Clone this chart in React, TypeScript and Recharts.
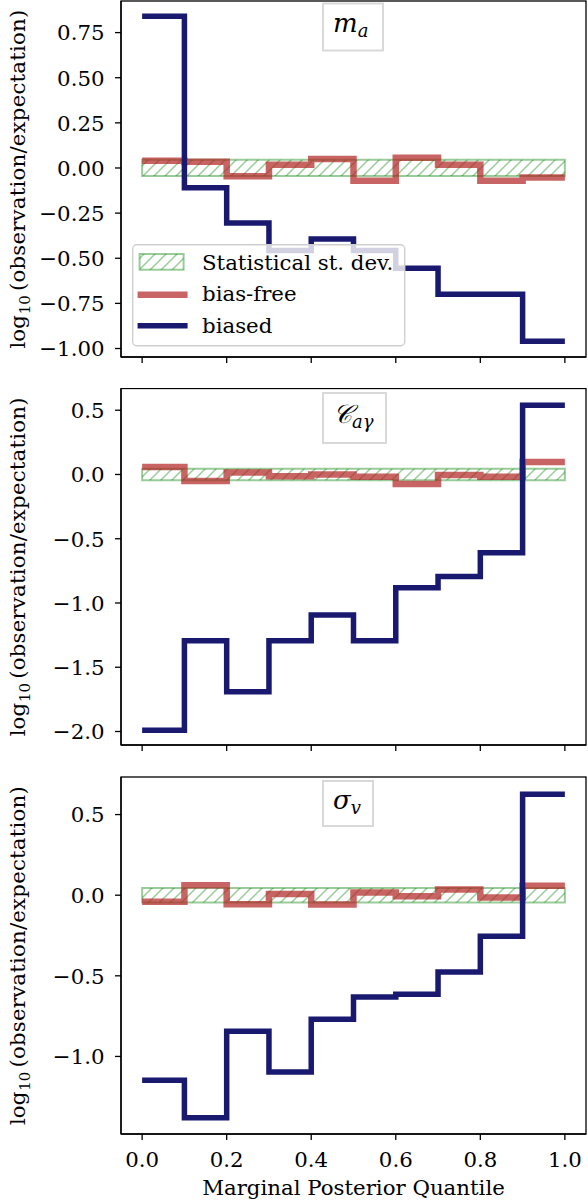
import React from 'react';
import { ComposedChart, Line, XAxis, YAxis, ReferenceArea, Legend } from 'recharts';

// ---------- data ----------
const QUANTILE_EDGES = [0, 0.1, 0.2, 0.3, 0.4, 0.5, 0.6, 0.7, 0.8, 0.9, 1.0];
const X_TICKS = [0, 0.2, 0.4, 0.6, 0.8, 1.0];
const X_DOMAIN: [number, number] = [-0.05, 1.05];
const STAT_STD = 0.045;

const MA_BIASED = [0.84, -0.11, -0.305, -0.457, -0.393, -0.457, -0.555, -0.70, -0.70, -0.96];
const MA_BIAS_FREE = [0.04, 0.035, -0.046, 0.018, 0.05, -0.07, 0.057, 0.018, -0.07, -0.052];
const MA_Y_TICKS = [-1, -0.75, -0.5, -0.25, 0, 0.25, 0.5, 0.75];

const CAG_BIASED = [-1.99, -1.293, -1.69, -1.293, -1.093, -1.293, -0.881, -0.793, -0.61, 0.538];
const CAG_BIAS_FREE = [0.059, -0.05, 0.015, -0.013, 0.0, -0.018, -0.075, -0.005, -0.018, 0.098];
const CAG_Y_TICKS = [-2, -1.5, -1, -0.5, 0, 0.5];

const SV_BIASED = [-1.147, -1.38, -0.843, -1.097, -0.769, -0.632, -0.614, -0.477, -0.254, 0.626];
const SV_BIAS_FREE = [-0.041, 0.062, -0.056, 0.008, -0.058, 0.017, -0.006, 0.035, -0.014, 0.058];
const SV_Y_TICKS = [-1, -0.5, 0, 0.5];

const X_LABEL = 'Marginal Posterior Quantile';
const Y_LABEL_PREFIX = 'log';
const Y_LABEL_SUB = '10';
const Y_LABEL_REST = '(observation/expectation)';
const LEGEND_LABELS = ['Statistical st. dev.', 'bias-free', 'biased'];

// ---------- styles ----------
const SERIF = "'DejaVu Serif', 'Liberation Serif', serif";
const FS = 21.3;
const BLUE = '#191970';
const RED = '#b22222';
const RED_OPACITY = 0.7;
const GREEN = '#008000';
const GREEN_OPACITY = 0.4;

function buildRows(biased: number[], free: number[]) {
  return QUANTILE_EDGES.map((x, i) => {
    const k = Math.min(i, biased.length - 1);
    return { x, biased: biased[k], free: free[k] };
  });
}

const fmt = (v: number, d: number) => v.toFixed(d).replace('-', '\u2212');

type TitleSpec = { main: string; sub: string; boxW: number; boxH: number; boxTop: number; base: number; subShift: number };

type PanelProps = {
  top: number;
  height: number;
  marginTop: number;
  xAxisHeight: number;
  marginBottom: number;
  biased: number[];
  free: number[];
  yDomain: [number, number];
  yTicks: number[];
  decimals: number;
  showXLabels: boolean;
  title: TitleSpec;
  legend?: boolean;
};

const HatchDefs = () => (
  <svg width={0} height={0} style={{ position: 'absolute', left: 0, top: 0 }}>
    <defs>
      <pattern id="hatch" patternUnits="userSpaceOnUse" width={11} height={11}>
        <path
          d="M0,11 L11,0 M-2.75,2.75 L2.75,-2.75 M8.25,13.75 L13.75,8.25"
          stroke={GREEN}
          strokeOpacity={GREEN_OPACITY}
          strokeWidth={1.5}
        />
      </pattern>
    </defs>
  </svg>
);

const LegendBox = () => (
  <svg width={275} height={104} style={{ display: 'block', overflow: 'visible' }}>
    <rect x={0.7} y={0.7} width={272} height={101} rx={4} fill="#ffffff" fillOpacity={0.8} stroke="#cfcfcf" strokeWidth={1.4} />
    <rect x={7.6} y={10} width={44} height={15.7} fill="url(#hatch)" stroke={GREEN} strokeOpacity={GREEN_OPACITY} strokeWidth={2} />
    <text x={70} y={26.4} fontFamily={SERIF} fontSize={FS} fill="#000">{LEGEND_LABELS[0]}</text>
    <line x1={5.6} x2={55.6} y1={50.7} y2={50.7} stroke={RED} strokeOpacity={RED_OPACITY} strokeWidth={6.5} />
    <text x={70} y={57} fontFamily={SERIF} fontSize={FS} fill="#000">{LEGEND_LABELS[1]}</text>
    <line x1={5.6} x2={55.6} y1={81.7} y2={81.7} stroke={BLUE} strokeWidth={5.5} />
    <text x={70} y={89} fontFamily={SERIF} fontSize={FS} fill="#000">{LEGEND_LABELS[2]}</text>
  </svg>
);

function Panel(p: PanelProps) {
  const rows = buildRows(p.biased, p.free);

  const YTick = (props: any) => (
    <text x={props.x - 10.5} y={props.y + 7.8} textAnchor="end" fontFamily={SERIF} fontSize={FS} fill="#000">
      {fmt(props.payload.value, p.decimals)}
    </text>
  );
  const XTick = (props: any) =>
    p.showXLabels ? (
      <text x={props.x} y={props.y + 27.3} textAnchor="middle" fontFamily={SERIF} fontSize={FS} fill="#000">
        {fmt(props.payload.value, 1)}
      </text>
    ) : (
      <g />
    );

  const YLabel = (props: any) => {
    const vb = props.viewBox;
    const cy = vb.y + vb.height / 2;
    return (
      <text transform={`translate(25, ${cy}) rotate(-90)`} textAnchor="middle" fontFamily={SERIF} fontSize={FS} fill="#000">
        {Y_LABEL_PREFIX}
        <tspan fontSize={15} dx={1} dy={5}>{Y_LABEL_SUB}</tspan>
        <tspan dx={4} dy={-5} letterSpacing={0.2}>{Y_LABEL_REST}</tspan>
      </text>
    );
  };

  const XLabel = (props: any) => {
    if (!p.showXLabels) return <g />;
    const vb = props.viewBox;
    return (
      <text x={vb.x + vb.width / 2} y={vb.y + 61} textAnchor="middle" fontFamily={SERIF} fontSize={FS} fill="#000">
        {X_LABEL}
      </text>
    );
  };

  // frame (all four spines) + title box, drawn over the plot rectangle
  const FrameAndTitle = (props: any) => {
    const { x, y, width, height } = props;
    const t = p.title;
    const left = 323;
    return (
      <g>
        <rect x={x} y={y} width={width} height={height} fill="none" stroke="#000" strokeWidth={1.3} />
        <rect x={left} y={y + t.boxTop} width={t.boxW} height={t.boxH} fill="#fff" stroke="#d9d9d9" strokeWidth={2} />
        <text x={left + 10} y={y + t.base} fontFamily={SERIF} fontStyle="italic" fontSize={26} fill="#000">
          {t.main}
          <tspan fontSize={18} dy={t.subShift}>{t.sub}</tspan>
        </text>
      </g>
    );
  };

  return (
    <div style={{ position: 'absolute', left: 0, top: p.top, width: 588, height: p.height }}>
      <ComposedChart
        width={588}
        height={p.height}
        data={rows}
        margin={{ top: p.marginTop, right: 2, bottom: p.marginBottom, left: 0 }}
      >
        <XAxis
          xAxisId="b"
          dataKey="x"
          type="number"
          domain={X_DOMAIN}
          allowDataOverflow
          ticks={X_TICKS}
          height={p.xAxisHeight}
          tickSize={6}
          tickMargin={0}
          stroke="#000"
          axisLine={{ stroke: '#000', strokeWidth: 1.3 }}
          tickLine={{ stroke: '#000', strokeWidth: 1.3 }}
          tick={XTick}
          label={XLabel}
          interval={0}
        />
        <YAxis
          yAxisId="l"
          type="number"
          domain={p.yDomain}
          allowDataOverflow
          ticks={p.yTicks}
          width={121}
          tickSize={6}
          tickMargin={0}
          interval={0}
          axisLine={{ stroke: '#000', strokeWidth: 1.3 }}
          tickLine={{ stroke: '#000', strokeWidth: 1.3 }}
          tick={YTick}
          label={YLabel}
        />
        <ReferenceArea
          xAxisId="b"
          yAxisId="l"
          x1={0}
          x2={1}
          y1={-STAT_STD}
          y2={STAT_STD}
          fill="url(#hatch)"
          fillOpacity={1}
          stroke={GREEN}
          strokeOpacity={GREEN_OPACITY}
          strokeWidth={2}
        />
        <Line
          xAxisId="b"
          yAxisId="l"
          type="stepAfter"
          dataKey="free"
          stroke={RED}
          strokeOpacity={RED_OPACITY}
          strokeWidth={6.5}
          strokeLinejoin="miter"
          strokeLinecap="butt"
          dot={false}
          activeDot={false}
          isAnimationActive={false}
        />
        <Line
          xAxisId="b"
          yAxisId="l"
          type="stepAfter"
          dataKey="biased"
          stroke={BLUE}
          strokeWidth={5.5}
          strokeLinejoin="miter"
          strokeLinecap="butt"
          dot={false}
          activeDot={false}
          isAnimationActive={false}
        />
        <ReferenceArea
          xAxisId="b"
          yAxisId="l"
          x1={X_DOMAIN[0]}
          x2={X_DOMAIN[1]}
          y1={p.yDomain[0]}
          y2={p.yDomain[1]}
          ifOverflow="visible"
          shape={FrameAndTitle}
        />
        {p.legend ? (
          <Legend
            layout="vertical"
            align="center"
            verticalAlign="middle"
            content={LegendBox}
            wrapperStyle={{ position: 'absolute', left: 131.7, top: 244.3, width: 275, height: 104, margin: 0, padding: 0 }}
          />
        ) : null}
      </ComposedChart>
    </div>
  );
}

export default function App() {
  return (
    <div style={{ position: 'absolute', left: 0, top: 0, width: 588, height: 1202, background: '#fff' }}>
      <HatchDefs />
      <Panel
        top={0}
        height={388}
        marginTop={1}
        xAxisHeight={20}
        marginBottom={11}
        biased={MA_BIASED}
        free={MA_BIAS_FREE}
        yDomain={[-1.047, 0.925]}
        yTicks={MA_Y_TICKS}
        decimals={2}
        showXLabels={false}
        title={{ main: 'm', sub: 'a', boxW: 60, boxH: 47, boxTop: 2.5, base: 31, subShift: 5 }}
        legend
      />
      <Panel
        top={388}
        height={388}
        marginTop={0.5}
        xAxisHeight={20}
        marginBottom={11}
        biased={CAG_BIASED}
        free={CAG_BIAS_FREE}
        yDomain={[-2.105, 0.669]}
        yTicks={CAG_Y_TICKS}
        decimals={1}
        showXLabels={false}
        title={{ main: '\u{1D49E}', sub: 'a\u03B3', boxW: 63, boxH: 50, boxTop: 4.5, base: 34.5, subShift: 4.5 }}
      />
      <Panel
        top={776}
        height={426}
        marginTop={1}
        xAxisHeight={68}
        marginBottom={0}
        biased={SV_BIASED}
        free={SV_BIAS_FREE}
        yDomain={[-1.481, 0.733]}
        yTicks={SV_Y_TICKS}
        decimals={1}
        showXLabels
        title={{ main: '\u03C3', sub: 'v', boxW: 50, boxH: 45, boxTop: 4, base: 32, subShift: 5 }}
      />
    </div>
  );
}
